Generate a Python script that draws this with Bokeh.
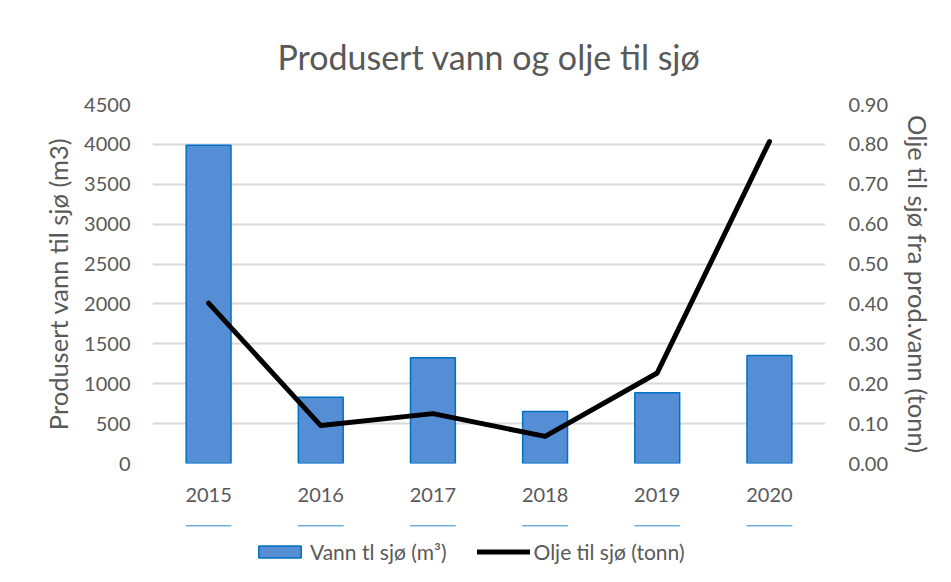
from bokeh.plotting import figure
from bokeh.layouts import column
from bokeh.models import Range1d, LinearAxis, FactorRange, Legend, LegendItem, ColumnDataSource, SingleIntervalTicker, NumeralTickFormatter
from bokeh.embed import file_html
from bokeh.resources import INLINE

years = ["2015", "2016", "2017", "2018", "2019", "2020"]
vann = [3990, 830, 1325, 652, 886, 1355]
olje = [0.402, 0.095, 0.125, 0.068, 0.227, 0.807]
legend_labels = ["Vann tl sjø (m³)", "Olje til sjø (tonn)"]

FONT = "Lato"
GREY = "#595959"
BAR_FILL = "#558ED5"
BAR_LINE = "#0070C0"

src = ColumnDataSource(dict(x=years, vann=vann, olje=olje))

p = figure(width=951, height=525, frame_width=673, frame_height=359,
           x_range=FactorRange(*years), y_range=Range1d(0, 4500),
           output_backend="svg", toolbar_location=None,
           min_border_left=152, min_border_right=126, min_border_top=104, min_border_bottom=62)
p.extra_y_ranges = {"right": Range1d(0, 0.9)}
p.outline_line_color = None

p.title.text = "Produsert vann og olje til sjø"
p.title.align = "center"
p.title.text_font = FONT
p.title.text_font_style = "normal"
p.title.text_font_size = "34px"
p.title.text_color = GREY
p.title.standoff = 56

p.vbar(x="x", top="vann", width=0.4, source=src, fill_color=BAR_FILL, line_color=BAR_LINE, line_width=1.5)
p.line(x="x", y="olje", source=src, y_range_name="right", line_color="black", line_width=5,
       line_join="round", line_cap="round")

p.xgrid.grid_line_color = None
p.ygrid.grid_line_color = "#d9d9d9"
p.ygrid.grid_line_width = 2
p.yaxis.ticker = SingleIntervalTicker(interval=500)

ax_r = LinearAxis(y_range_name="right", ticker=SingleIntervalTicker(interval=0.1),
                  formatter=NumeralTickFormatter(format="0.00"))
p.add_layout(ax_r, "right")

p.yaxis[0].axis_label = "Produsert vann til sjø (m3)"
ax_r.axis_label = "Olje til sjø fra prod.vann (tonn)"

for ax in [p.xaxis[0], p.yaxis[0], ax_r]:
    ax.axis_line_color = None
    ax.major_tick_line_color = None
    ax.minor_tick_line_color = None
    ax.major_label_text_font = FONT
    ax.major_label_text_font_size = "20px"
    ax.major_label_text_color = GREY
    ax.axis_label_text_font = FONT
    ax.axis_label_text_font_style = "normal"
    ax.axis_label_text_color = GREY
p.xaxis[0].major_label_standoff = 18
p.yaxis[0].major_label_standoff = 16
p.yaxis[0].axis_label_standoff = 8
p.yaxis[0].axis_label_text_font_size = "25.5px"
ax_r.major_label_standoff = 17
ax_r.axis_label_standoff = 12
ax_r.axis_label_text_font_size = "25.5px"

# separate strip holding the legend (its frame is aligned with the main frame)
pl = figure(width=951, height=57, x_range=FactorRange(*years), y_range=Range1d(-2, -1),
            output_backend="svg", toolbar_location=None,
            min_border_left=0, min_border_right=0, min_border_top=0, min_border_bottom=0)
pl.axis.visible = False
pl.grid.visible = False
pl.outline_line_color = None
lb = pl.vbar(x="x", top="vann", width=0.4, source=src, fill_color=BAR_FILL, line_color=BAR_LINE, line_width=1.5)
ll = pl.line(x="x", y="olje", source=src, line_color="black", line_width=5, line_cap="round")

legend = Legend(items=[LegendItem(label=legend_labels[0], renderers=[lb]),
                       LegendItem(label=legend_labels[1], renderers=[ll])],
                orientation="horizontal", location=(101, 18),
                label_text_font=FONT, label_text_font_size="21px", label_text_color=GREY,
                glyph_width=53, glyph_height=15, label_standoff=4, spacing=30,
                border_line_color=None, background_fill_alpha=0, margin=0, padding=4)
pl.add_layout(legend, "center")

open("out.html", "w").write(file_html(column(p, pl, spacing=0), INLINE))
